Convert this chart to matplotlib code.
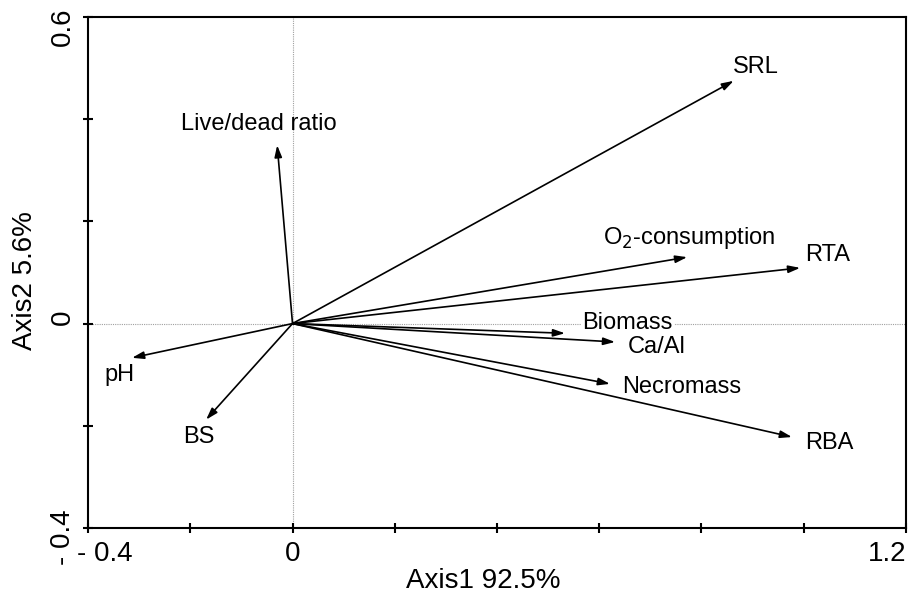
import matplotlib.pyplot as plt
import matplotlib.transforms as mtrans

plt.rcParams['font.family'] = ['Liberation Sans', 'DejaVu Sans']

# === Biplot vectors (Axis1, Axis2) ===
variables = ["SRL", "Live/dead ratio", "O$_2$-consumption", "RTA", "Biomass",
             "Ca/Al", "Necromass", "RBA", "pH", "BS"]
axis1 = [0.863, -0.030, 0.772, 0.993, 0.533, 0.631, 0.621, 0.977, -0.314, -0.169]
axis2 = [0.475, 0.349, 0.130, 0.109, -0.019, -0.036, -0.118, -0.222, -0.067, -0.188]

# label anchors (left, vertical centre) in data units
label_x = [0.862, -0.218, 0.608, 1.003, 0.567, 0.655, 0.645, 1.003, -0.367, -0.214]
label_y = [0.502, 0.391, 0.168, 0.134, 0.001, -0.046, -0.124, -0.234, -0.101, -0.222]

xticks = [-0.4, -0.2, 0, 0.2, 0.4, 0.6, 0.8, 1.0, 1.2]
xtick_labels = ["- 0.4", "", "0", "", "", "", "", "", "1.2"]
yticks = [-0.4, -0.2, 0, 0.2, 0.4, 0.6]
ytick_labels = ["- 0.4", "", "0", "", "", "0.6"]

fig = plt.figure(figsize=(9.18, 5.97), dpi=100)
ax = fig.add_axes([0.0959, 0.1156, 0.891, 0.856])

ax.axhline(0, color="#a0a0a0", lw=0.8, ls=(0, (1, 1)), zorder=0)
ax.axvline(0, color="#a0a0a0", lw=0.8, ls=(0, (1, 1)), zorder=0)

for x, y in zip(axis1, axis2):
    ax.annotate("", xy=(x, y), xytext=(0, 0),
                arrowprops=dict(arrowstyle="-|>,head_length=0.7,head_width=0.22",
                                color="black", lw=1.2, shrinkA=0, shrinkB=0))

for name, lx, ly in zip(variables, label_x, label_y):
    bbox = None
    if name == "Biomass":
        bbox = dict(facecolor="white", edgecolor="none", pad=1)
    ax.text(lx, ly, name, ha="left", va="center", fontsize=17, bbox=bbox)

ax.set_xlim(-0.4, 1.2)
ax.set_ylim(-0.4, 0.6)
ax.set_xticks(xticks)
ax.set_xticklabels(xtick_labels, fontsize=20)
ax.set_yticks(yticks)
ax.set_yticklabels(ytick_labels, fontsize=20, rotation=90, va="center")
ax.tick_params(direction="inout", length=7, width=1.5)
ax.tick_params(axis="x", pad=6)
ax.tick_params(axis="y", pad=5)

for sp in ax.spines.values():
    sp.set_linewidth(1.5)

# nudge the end tick labels like the original software does (pixels)
x_shift = [17, 0, 0, 0, 0, 0, 0, 0, -19]
y_shift = [-9, 0, 6, 0, 0, -10]
for lab, dx in zip(ax.get_xticklabels(), x_shift):
    lab.set_transform(lab.get_transform() + mtrans.ScaledTranslation(dx / 100, 0, fig.dpi_scale_trans))
for lab, dy in zip(ax.get_yticklabels(), y_shift):
    lab.set_transform(lab.get_transform() + mtrans.ScaledTranslation(0, dy / 100, fig.dpi_scale_trans))

ax.set_xlabel("Axis1 92.5%", fontsize=20, va="center")
ax.xaxis.set_label_coords(0.483, -0.104)
ax.set_ylabel("Axis2 5.6%", fontsize=20, va="center")
ax.yaxis.set_label_coords(-0.077, 0.485)

plt.savefig("out.png", dpi=100)
